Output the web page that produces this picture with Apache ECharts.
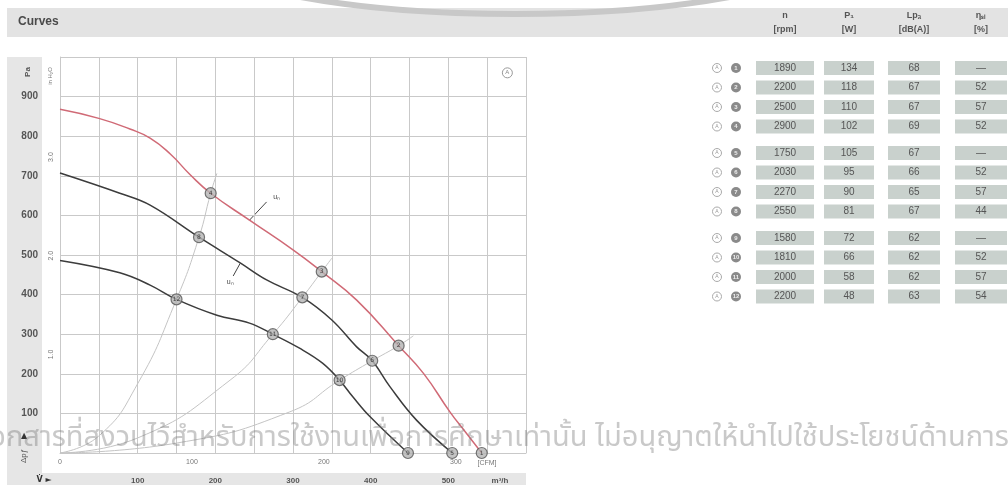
<!DOCTYPE html>
<html><head><meta charset="utf-8">
<script src="https://cdn.jsdelivr.net/npm/echarts@6/dist/echarts.min.js"></script>
<style>html,body{margin:0;padding:0;background:#fff}#c{width:1008px;height:485px}</style>
</head><body><div id="c"></div>
<script>
// ---- data (airflow in m³/h, static pressure in Pa) ----
const curveRed = [[0,868],[50,845],[90,818],[116,795],[142,755],[167,704],[194,656],[244,588],[300,513],[337,458],[382,386],[436,271],[468,201],[502,104],[522,53],[543,0]];
const curveMid = [[0,707],[77,656],[116,626],[179,545],[232,480],[266,437],[312,393],[350,336],[382,268],[402,233],[425,167],[459,83],[505,0]];
const curveLow = [[0,486],[77,455],[116,424],[150,388],[202,348],[244,328],[274,300],[309,264],[338,227],[360,184],[377,142],[399,92],[448,0]];
const sys1 = [[0,0],[50,43],[100,175],[150,388],[179,545],[194,656],[202,706]];
const sys2 = [[0,0],[100,38],[219,184],[274,300],[312,393],[337,458],[350,492]];
const sys3 = [[0,0],[150,25],[296,104],[360,184],[402,233],[436,271],[455,296]];
const pointsRed = [[543,0],[436,271],[337,458],[194,656]];
const pointsMid = [[505,0],[402,233],[312,393],[179,545]];
const pointsLow = [[448,0],[360,184],[274,300],[150,388]];
const pointNumbers = [1,2,3,4,5,6,7,8,9,10,11,12];
// table
const tableHeads = [['n','[rpm]'],['P₁','[W]'],['Lp\u2090','[dB(A)]'],['η\u209b\u2097','[%]']];
const speeds = [1890,2200,2500,2900,1750,2030,2270,2550,1580,1810,2000,2200];
const power = [134,118,110,102,105,95,90,81,72,66,58,48];
const noise = [68,67,67,69,67,66,65,67,62,62,62,63];
const eff = ['—',52,57,52,'—',52,57,44,'—',52,57,54];
const paTicks = [100,200,300,400,500,600,700,800,900];
const watermark = 'เอกสารที่สงวนไว้สำหรับการใช้งานเพื่อการศึกษาเท่านั้น ไม่อนุญาตให้นำไปใช้ประโยชน์ด้านการค้า';

const chart = echarts.init(document.getElementById('c'), null, {renderer:'canvas'});
const GRID = {left:60, top:57, width:466, height:396};
const gridCol = '#c9c9c9', lab = '#555';
const CFM_PER_M3H = 0.588578;

function pts(arr, base){
  return arr.map((d,i)=>({value:d, label:{formatter:String(pointNumbers[base+i])}}));
}
const ptStyle = {color:'#b4b4b4', borderColor:'#555', borderWidth:1.2};
const ptLabel = {show:true, position:'inside', fontSize:6, color:'#222', fontFamily:'DejaVu Sans'};

const option = {
  animation:false,
  backgroundColor:'#fff',
  grid:{left:GRID.left, top:GRID.top, width:GRID.width, height:GRID.height, containLabel:false},
  xAxis:[
    {type:'value', min:0, max:600, interval:50, position:'bottom',
     axisLine:{show:true, lineStyle:{color:gridCol}}, axisTick:{show:false},
     splitLine:{show:true, lineStyle:{color:gridCol, width:1}},
     axisLabel:{margin:24, fontSize:8, fontWeight:'bold', color:lab, fontFamily:'Liberation Sans',
       formatter:v=> (v%100===0 && v>0 && v<600) ? String(v) : ''}},
    {type:'value', min:0, max:600*CFM_PER_M3H, interval:100, position:'bottom',
     axisLine:{show:false}, axisTick:{show:false}, splitLine:{show:false},
     axisLabel:{margin:6, fontSize:7, color:'#777', fontFamily:'Liberation Sans',
       formatter:v=> v<=300 ? String(v) : ''}}
  ],
  yAxis:[
    {type:'value', min:0, max:1000, interval:100, position:'left',
     axisLine:{show:true, lineStyle:{color:gridCol}}, axisTick:{show:false},
     splitLine:{show:true, lineStyle:{color:gridCol, width:1}},
     axisLabel:{margin:22, fontSize:10, fontWeight:'bold', color:lab, fontFamily:'Liberation Sans',
       formatter:v=> paTicks.includes(v) ? String(v) : ''}},
    {type:'value', min:0, max:1000/249.089, interval:1, position:'left',
     axisLine:{show:false}, axisTick:{show:false}, splitLine:{show:false},
     axisLabel:{margin:5, fontSize:7, rotate:90, color:'#777', fontFamily:'Liberation Sans',
       formatter:v=> (v>0 && v<4) ? v.toFixed(1) : ''}}
  ],
  series:[
    {type:'line', data:sys1, smooth:true, showSymbol:false, lineStyle:{color:'#c4c4c4', width:1}, z:2},
    {type:'line', data:sys2, smooth:true, showSymbol:false, lineStyle:{color:'#c4c4c4', width:1}, z:2},
    {type:'line', data:sys3, smooth:true, showSymbol:false, lineStyle:{color:'#c4c4c4', width:1}, z:2},
    {type:'line', data:curveLow, smooth:0.4, showSymbol:false, lineStyle:{color:'#3c3c3c', width:1.5}, z:3},
    {type:'line', data:curveMid, smooth:0.4, showSymbol:false, lineStyle:{color:'#3c3c3c', width:1.5}, z:3},
    {type:'line', data:curveRed, smooth:0.5, showSymbol:false, lineStyle:{color:'#d06a76', width:1.5}, z:3},
    {type:'scatter', data:pts(pointsRed,0), symbolSize:11, itemStyle:ptStyle, label:ptLabel, z:5},
    {type:'scatter', data:pts(pointsMid,4), symbolSize:11, itemStyle:ptStyle, label:ptLabel, z:5},
    {type:'scatter', data:pts(pointsLow,8), symbolSize:11, itemStyle:ptStyle, label:ptLabel, z:5}
  ],
  graphic:[]
};
chart.setOption(option);

// ---- decorations, labels, table ----
const g = [];
const px = (q,p)=>chart.convertToPixel({xAxisIndex:0,yAxisIndex:0},[q,p]);
// header band
g.push({type:'rect', shape:{x:7,y:8,width:1001,height:29}, style:{fill:'#e3e3e3'}, z:-2});
// top arc (decorative)
g.push({type:'ellipse', shape:{cx:515, cy:-62, rx:340, ry:76}, style:{stroke:'#c8c8c8', lineWidth:6, fill:null}, z:-1});
g.push({type:'text', x:18, y:22, style:{text:'Curves', font:'bold 12px "Liberation Sans"', fill:'#4a4a4a', verticalAlign:'middle'}});
// left & bottom bands
g.push({type:'rect', shape:{x:7,y:57,width:35,height:428}, style:{fill:'#e6e6e6'}, z:-2});
g.push({type:'rect', shape:{x:7,y:473,width:519,height:12}, style:{fill:'#e6e6e6'}, z:-2});
g.push({type:'text', x:28, y:72, rotation:Math.PI/2, style:{text:'Pa', font:'bold 8px "Liberation Sans"', fill:lab, align:'center', verticalAlign:'middle'}});
g.push({type:'text', x:50, y:76, rotation:Math.PI/2, style:{text:'in H₂O', font:'6px "Liberation Sans"', fill:'#777', align:'center', verticalAlign:'middle'}});
g.push({type:'text', x:24, y:436, style:{text:'▲', font:'8px "DejaVu Sans"', fill:'#333', align:'center', verticalAlign:'middle'}});
g.push({type:'text', x:24, y:456, rotation:Math.PI/2, style:{text:'Δp\u0192', font:'8px "Liberation Sans"', fill:lab, align:'center', verticalAlign:'middle'}});
g.push({type:'text', x:44, y:480, style:{text:'V̇ ►', font:'bold 8px "DejaVu Sans"', fill:'#333', align:'center', verticalAlign:'middle'}});
g.push({type:'text', x:487, y:463, style:{text:'[CFM]', font:'7px "Liberation Sans"', fill:'#777', align:'center', verticalAlign:'middle'}});
g.push({type:'text', x:500, y:481, style:{text:'m³/h', font:'bold 8px "Liberation Sans"', fill:lab, align:'center', verticalAlign:'middle'}});
// circled A in plot
const pa = px(576,960);
g.push({type:'circle', shape:{cx:pa[0], cy:pa[1], r:5}, style:{stroke:'#999', fill:'#fff', lineWidth:1}});
g.push({type:'text', x:pa[0], y:pa[1], style:{text:'A', font:'6px "Liberation Sans"', fill:'#888', align:'center', verticalAlign:'middle'}});
// curve labels with leaders
function leader(a,b,t,text){
  const A=px(a[0],a[1]), B=px(b[0],b[1]), T=px(t[0],t[1]);
  g.push({type:'line', shape:{x1:A[0],y1:A[1],x2:B[0],y2:B[1]}, style:{stroke:'#444', lineWidth:1}});
  g.push({type:'text', x:T[0], y:T[1], style:{text:text, font:'7px "Liberation Sans"', fill:'#444', align:'center', verticalAlign:'middle'}});
}
leader([244,588],[266,634],[279,646],'u\u2099');
leader([232,479],[223,447],[219,431],'u\u2099');
// table
const colX = [785, 849, 914, 981], colW = [58, 50, 52, 52];
tableHeads.forEach((h,i)=>{
  g.push({type:'text', x:colX[i], y:16, style:{text:h[0], font:'bold 9px "Liberation Sans"', fill:'#555', align:'center', verticalAlign:'middle'}});
  g.push({type:'text', x:colX[i], y:30, style:{text:h[1], font:'bold 9px "Liberation Sans"', fill:'#555', align:'center', verticalAlign:'middle'}});
});
speeds.forEach((s,i)=>{
  const grp = Math.floor(i/4), r = i%4;
  const y = 68 + grp*85 + r*19.5;
  g.push({type:'circle', shape:{cx:717, cy:y, r:4.5}, style:{stroke:'#aaa', fill:'#fff', lineWidth:1}});
  g.push({type:'text', x:717, y:y, style:{text:'A', font:'5px "Liberation Sans"', fill:'#999', align:'center', verticalAlign:'middle'}});
  g.push({type:'circle', shape:{cx:736, cy:y, r:5}, style:{fill:'#8a8a8a'}});
  g.push({type:'text', x:736, y:y, style:{text:String(pointNumbers[i]), font:'bold 6px "Liberation Sans"', fill:'#eee', align:'center', verticalAlign:'middle'}});
  const vals = [s, power[i], noise[i], eff[i]];
  vals.forEach((v,c)=>{
    g.push({type:'rect', shape:{x:colX[c]-colW[c]/2, y:y-7, width:colW[c], height:14}, style:{fill:'#c9d1cd'}});
    g.push({type:'text', x:colX[c], y:y, style:{text:String(v), font:'10px "Liberation Sans"', fill:'#555', align:'center', verticalAlign:'middle'}});
  });
});
// watermark
g.push({type:'text', x:-19, y:440, z:100, style:{text:watermark, font:'29px "Noto Sans Thai", "Tahoma", "DejaVu Sans", sans-serif', fill:'rgba(120,120,120,0.4)', verticalAlign:'middle'}});
chart.setOption({graphic:g});
</script></body></html>
